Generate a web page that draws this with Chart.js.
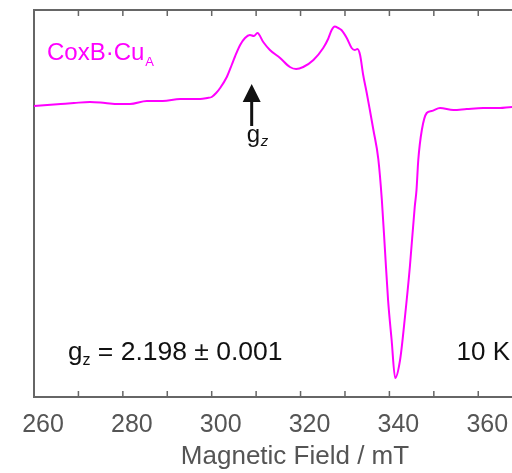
<!DOCTYPE html>
<html>
<head>
<meta charset="utf-8">
<script src="https://cdn.jsdelivr.net/npm/chart.js@4"></script>
<style>
  html, body { margin: 0; padding: 0; background: #fff; overflow: hidden; }
  #wrap { width: 512px; height: 473px; overflow: hidden; }
</style>
</head>
<body>
<div id="wrap"><canvas id="eprChart" width="556" height="473"></canvas></div>
<script>
// EPR spectrum, CoxB·CuA at 10 K (arbitrary units)
const fieldMT = [260, 263, 266, 269, 272.6, 276, 279, 281.6, 285.4, 289, 292.9, 297.4, 299, 300, 301, 301.9,
  303.4, 304.5, 305.2, 306.4, 307.5, 308.6, 309.5, 310.3, 311.6, 313.1, 315.4, 317.6, 319, 320.6, 322.9,
  325.1, 326.2, 327, 327.7, 328.5, 329.2, 330.4, 331.5, 332.2, 332.8, 333.4, 334.1, 334.9, 335.6, 336.4,
  337.5, 338.3, 339, 339.7, 340.5, 341.3, 342.4, 343.5, 344.6, 345.7, 346.1, 346.5, 347.3, 348.4, 349.5,
  351.4, 354.4, 357.4, 361.1, 364.9, 367.6, 372, 377.5];
const signal = [-0.01, 0.00, 0.01, 0.02, 0.03, 0.02, 0.01, 0.01, 0.04, 0.04, 0.06, 0.06, 0.07, 0.08, 0.12, 0.17,
  0.28, 0.40, 0.48, 0.60, 0.67, 0.70, 0.69, 0.72, 0.63, 0.55, 0.47, 0.38, 0.36, 0.38, 0.45,
  0.57, 0.66, 0.75, 0.785, 0.77, 0.75, 0.67, 0.57, 0.55, 0.56, 0.50, 0.30, 0.12, -0.05, -0.25,
  -0.54, -0.95, -1.45, -1.95, -2.35, -2.73, -2.55, -2.12, -1.62, -1.02, -0.85, -0.55, -0.25, -0.08, -0.06,
  -0.03, -0.05, -0.04, -0.03, -0.03, -0.02, -0.02, -0.02];
const tickMarks = [270, 280, 290, 300, 310, 320, 330, 340, 350, 360, 370];
const gzField = 309;

const axisGrey = '#666';
const magenta = '#ff00ff';

// top frame, inward ticks and the text notes
const frameNotes = {
  id: 'frameNotes',
  afterDraw(chart) {
    const { ctx, chartArea: a, scales: { x, y } } = chart;
    ctx.save();
    ctx.strokeStyle = axisGrey;
    ctx.lineWidth = 2;
    ctx.beginPath();
    ctx.moveTo(a.left - 1, a.top);
    ctx.lineTo(a.right, a.top);
    ctx.stroke();
    ctx.lineWidth = 1.5;
    tickMarks.forEach(v => {
      const px = x.getPixelForValue(v);
      ctx.beginPath();
      ctx.moveTo(px, a.top); ctx.lineTo(px, a.top + 6);
      ctx.moveTo(px, a.bottom); ctx.lineTo(px, a.bottom - 6);
      ctx.stroke();
    });

    // g_z arrow
    const ax = x.getPixelForValue(gzField);
    const tip = y.getPixelForValue(0.21);
    const base = y.getPixelForValue(0.04);
    const tail = y.getPixelForValue(-0.21);
    ctx.fillStyle = '#111';
    ctx.strokeStyle = '#111';
    ctx.lineWidth = 3;
    ctx.beginPath(); ctx.moveTo(ax, base); ctx.lineTo(ax, tail); ctx.stroke();
    ctx.beginPath();
    ctx.moveTo(ax, tip); ctx.lineTo(ax - 9, base + 1); ctx.lineTo(ax + 9, base + 1); ctx.closePath();
    ctx.fill();

    ctx.textBaseline = 'alphabetic';
    ctx.textAlign = 'left';
    ctx.font = '24px "Liberation Sans", Arial, sans-serif';
    ctx.fillText('g', ax - 5, tail + 16);
    ctx.font = 'italic 15px "Liberation Sans", Arial, sans-serif';
    ctx.fillText('z', ax + 9, tail + 20);

    // sample label
    ctx.fillStyle = magenta;
    ctx.font = '24px "Liberation Sans", Arial, sans-serif';
    ctx.fillText('CoxB·Cu', a.left + 13, a.top + 50);
    let w = ctx.measureText('CoxB·Cu').width;
    ctx.font = '13px "Liberation Sans", Arial, sans-serif';
    ctx.fillText('A', a.left + 14 + w, a.top + 56);

    // g value and temperature
    ctx.fillStyle = '#111';
    ctx.font = '26px "Liberation Sans", Arial, sans-serif';
    const gx = a.left + 34, gy = 360;
    ctx.fillText('g', gx, gy);
    w = ctx.measureText('g').width;
    ctx.font = '16px "Liberation Sans", Arial, sans-serif';
    ctx.fillText('z', gx + w, gy + 5);
    const zw = ctx.measureText('z').width;
    ctx.font = '26.5px "Liberation Sans", Arial, sans-serif';
    ctx.fillText(' = 2.198 \u00b1 0.001', gx + w + zw, gy);
    ctx.font = '26px "Liberation Sans", Arial, sans-serif';
    ctx.textAlign = 'right';
    ctx.fillText('10 K', 510, gy);
    ctx.restore();
  }
};

new Chart(document.getElementById('eprChart'), {
  type: 'line',
  data: {
    datasets: [{
      data: fieldMT.map((f, i) => ({ x: f, y: signal[i] })),
      borderColor: magenta,
      borderWidth: 2,
      pointRadius: 0,
      cubicInterpolationMode: 'monotone',
      fill: false
    }]
  },
  options: {
    responsive: false,
    animation: false,
    devicePixelRatio: 1,
    layout: { padding: { left: 34, top: 10, right: 0, bottom: 0 } },
    plugins: { legend: { display: false }, tooltip: { enabled: false } },
    scales: {
      x: {
        type: 'linear',
        min: 260,
        max: 377.5,
        grid: { display: false, drawTicks: false },
        border: { display: true, color: axisGrey, width: 2 },
        ticks: {
          stepSize: 20,
          includeBounds: false,
          autoSkip: false,
          maxRotation: 0,
          padding: 13,
          labelOffset: 9,
          color: '#555',
          font: { family: '"Liberation Sans", Arial, sans-serif', size: 25 }
        },
        title: {
          display: true,
          text: 'Magnetic Field / mT',
          color: '#555',
          padding: { top: 0, bottom: 1 },
          font: { family: '"Liberation Sans", Arial, sans-serif', size: 26 }
        },
        afterFit: s => { s.height = 76; }
      },
      y: {
        min: -2.92,
        max: 0.95,
        grid: { display: false, drawTicks: false },
        border: { display: true, color: axisGrey, width: 2 },
        ticks: { display: false },
        afterFit: s => { s.width = 0; }
      }
    }
  },
  plugins: [frameNotes]
});
</script>
</body>
</html>
